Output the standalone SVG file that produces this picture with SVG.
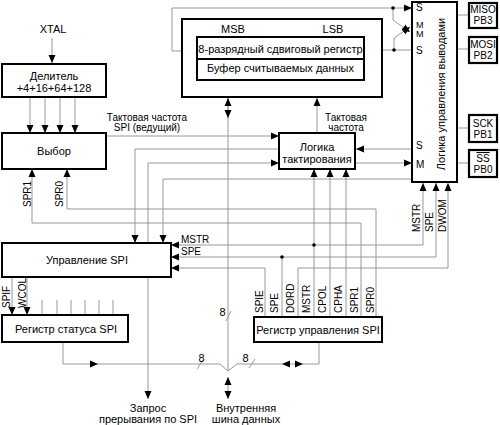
<svg xmlns="http://www.w3.org/2000/svg" width="500" height="425" viewBox="0 0 500 425">
<defs>
<style>
.box{fill:#fff;stroke:#000;stroke-width:2}
.pin{fill:#fff;stroke:#000;stroke-width:2.2}
.ln{fill:none;stroke:#999;stroke-width:1}
.ar{marker-end:url(#a)}
text{font-family:"Liberation Sans",Arial,sans-serif;font-size:11px;fill:#000}
.c{text-anchor:middle}
.s{font-size:10px}
.m{font-size:9px}
.dot{fill:#000}
.tri{fill:#000}
</style>
<marker id="a" markerWidth="8" markerHeight="8" refX="8" refY="4" orient="auto" markerUnits="userSpaceOnUse">
<path d="M0,0.5 L8,4 L0,7.5 z" fill="#000"/>
</marker>
</defs>

<g id="connectors">
<!-- XTAL -->
<path class="ln ar" d="M52,38 V63"/>
<!-- divider to select -->
<path class="ln ar" d="M30,97 V133"/>
<path class="ln ar" d="M45,97 V133"/>
<path class="ln ar" d="M60,97 V133"/>
<path class="ln ar" d="M75,97 V133"/>
<!-- SPI clock master -->
<path class="ln ar" d="M106,136 H279"/>
<!-- SPR1 / SPR0 -->
<path class="ln ar" d="M361,317 V223 H32 V169"/>
<path class="ln ar" d="M376,317 V209 H67 V169"/>
<!-- SCK slave -->
<path class="ln ar" d="M412,149 H356"/>
<path class="ln ar" d="M279,149 H135 V243"/>
<!-- clock logic to M -->
<path class="ln ar" d="M355,163 H412"/>
<!-- SPI control to clock logic -->
<path class="ln ar" d="M148,243 V163 H279"/>
<!-- pin logic to SPI control -->
<path class="ln ar" d="M412,179 H163 V243"/>
<!-- data bus vertical -->
<path class="ln" d="M228,98 V371"/>
<path class="ln ar" d="M228,108 V98"/>
<path class="ln ar" d="M228,108 V118"/>
<path class="ln ar" d="M228,388 V377"/>
<path class="ln ar" d="M228,388 V399"/>
<!-- clock to shift register -->
<path class="ln ar" d="M317,133 V98"/>
<!-- MSB loop -->
<path class="ln ar" d="M197,51 H172 V8 H412"/>
<polygon class="tri" points="183,51 191,47.5 191,54.5"/>
<!-- right side into LSB -->
<path class="ln ar" d="M412,50 H364"/>
<!-- cross -->
<path class="ln ar" d="M393,8 V20 L410,32"/>
<path class="ln ar" d="M394,50 V38 L410,27"/>
<circle class="dot" cx="393" cy="8" r="1.8"/>
<circle class="dot" cx="394" cy="50" r="1.8"/>
<!-- pin links -->
<path class="ln" d="M457,15 H469 M457,49 H469 M457,128 H469 M457,163 H469"/>
<!-- MSTR -->
<path class="ln ar" d="M314,317 V169"/>
<path class="ln ar" d="M314,245 H423 V183"/>
<path class="ln ar" d="M314,245 H171"/>
<circle class="dot" cx="314" cy="245" r="1.8"/>
<!-- SPE -->
<path class="ln" d="M282,317 V257"/>
<path class="ln ar" d="M282,257 H436 V183"/>
<path class="ln ar" d="M282,257 H171"/>
<circle class="dot" cx="282" cy="257" r="1.8"/>
<!-- SPIE -->
<path class="ln ar" d="M265,317 V268 H171"/>
<!-- DORD to DWOM -->
<path class="ln ar" d="M298,317 V268 H448 V183"/>
<!-- CPOL CPHA -->
<path class="ln ar" d="M330,317 V169"/>
<path class="ln ar" d="M346,317 V169"/>
<!-- SPIF WCOL -->
<path class="ln ar" d="M12,277 V315"/>
<path class="ln ar" d="M27,277 V315"/>
<path class="ln" d="M42,300 V315 M57,300 V315 M71,300 V315 M85,300 V315 M99,300 V315 M113,300 V315"/>
<!-- interrupt -->
<path class="ln ar" d="M148,277 V399"/>
<!-- status/control bus -->
<path class="ln" d="M63,342 V364 H220 L228,371 L237,364 H319 V342"/>
<polygon class="tri" points="98,364 90,360.5 90,367.5"/>
<polygon class="tri" points="282,364 290,360.5 290,367.5"/>
<polygon class="tri" points="303,364 295,360.5 295,367.5"/>
<path class="ln" d="M197,369 L203,360 M249,368 L255,359 M226,321 L231,311"/>
<text class="c" x="201.5" y="362">8</text>
<text class="c" x="245.5" y="362">8</text>
<text class="c" x="222.5" y="316">8</text>
<text class="c s" x="147" y="121">Тактовая частота</text>
<text class="c s" x="147" y="131">SPI (ведущий)</text>
<text class="c s" x="346" y="121">Тактовая</text>
<text class="c s" x="346" y="131">частота</text>
<text class="s" x="181" y="243">MSTR</text>
<text class="s" x="181" y="255">SPE</text>
<text class="s" transform="translate(31,207) rotate(-90)">SPR1</text>
<text class="s" transform="translate(63,207) rotate(-90)">SPR0</text>
<text class="s" transform="translate(10,308) rotate(-90)">SPIF</text>
<text class="s" transform="translate(26,308) rotate(-90)">WCOL</text>
<text class="s" transform="translate(420,232) rotate(-90)">MSTR</text>
<text class="s" transform="translate(433,232) rotate(-90)">SPE</text>
<text class="s" transform="translate(446,232) rotate(-90)">DWOM</text>
<text class="s" transform="translate(263,313) rotate(-90)">SPIE</text>
<text class="s" transform="translate(278,313) rotate(-90)">SPE</text>
<text class="s" transform="translate(294,313) rotate(-90)">DORD</text>
<text class="s" transform="translate(310,313) rotate(-90)">MSTR</text>
<text class="s" transform="translate(326,313) rotate(-90)">CPOL</text>
<text class="s" transform="translate(342,313) rotate(-90)">CPHA</text>
<text class="s" transform="translate(358,313) rotate(-90)">SPR1</text>
<text class="s" transform="translate(374,313) rotate(-90)">SPR0</text>
<text class="c" x="53" y="33">XTAL</text>
<text class="c" x="148" y="412">Запрос</text>
<text class="c" x="148" y="423">прерывания по SPI</text>
<text class="c" x="246" y="412">Внутренняя</text>
<text class="c" x="246" y="423">шина данных</text>
</g>

<g id="divider">
<rect class="box" x="2" y="64" width="104" height="33"/>
<text class="c" x="54" y="80">Делитель</text>
<text class="c" x="54" y="92">+4+16+64+128</text>
</g>

<g id="select">
<rect class="box" x="2" y="133" width="104" height="36"/>
<text class="c" x="54" y="155">Выбор</text>
</g>

<g id="shift-register">
<rect class="box" x="182" y="19" width="200" height="78"/>
<text class="c" x="233" y="33">MSB</text>
<text class="c" x="333" y="33">LSB</text>
<rect class="box" x="197" y="37" width="167" height="43"/>
<line x1="197" y1="59" x2="364" y2="59" stroke="#000" stroke-width="2"/>
<text class="c" x="280.5" y="53">8-разрядный сдвиговый регистр</text>
<text class="c" x="280.5" y="72">Буфер считываемых данных</text>
</g>

<g id="clock-logic">
<rect class="box" x="279" y="133" width="76" height="36"/>
<text class="c" x="317" y="151">Логика</text>
<text class="c" x="317" y="163">тактирования</text>
</g>

<g id="pin-logic">
<rect class="box" x="412" y="2" width="45" height="180"/>
<text class="s" x="416" y="11">S</text>
<text class="m" x="416" y="27.5">M</text>
<text class="m" x="416" y="37">M</text>
<text class="s" x="416" y="54">S</text>
<text class="s" x="416" y="149">S</text>
<text class="s" x="416" y="168">M</text>
<text class="c" transform="translate(445,94) rotate(-90)">Логика управления выводами</text>
</g>

<g id="miso">
<rect class="pin" x="469" y="3" width="28" height="25"/>
<text class="c s" x="483" y="13">MISO</text>
<text class="c s" x="483" y="24">PB3</text>
</g>
<g id="mosi">
<rect class="pin" x="469" y="37" width="28" height="26"/>
<text class="c s" x="483" y="48">MOSI</text>
<text class="c s" x="483" y="59">PB2</text>
</g>
<g id="sck">
<rect class="pin" x="469" y="115" width="28" height="27"/>
<text class="c s" x="483" y="127">SCK</text>
<text class="c s" x="483" y="138">PB1</text>
</g>
<g id="ss">
<rect class="pin" x="469" y="150" width="28" height="27"/>
<text class="c s" x="483" y="162" text-decoration="overline">SS</text>
<text class="c s" x="483" y="173">PB0</text>
</g>

<g id="spi-control">
<rect class="box" x="2" y="243" width="169" height="34"/>
<text class="c" x="87" y="264">Управление SPI</text>
</g>

<g id="status-register">
<rect class="box" x="2" y="315" width="126" height="27"/>
<text class="c" x="66" y="333">Регистр статуса SPI</text>
</g>

<g id="control-register">
<rect class="box" x="254" y="317" width="128" height="25"/>
<text class="c" x="318" y="334">Регистр управления SPI</text>
</g>
</svg>
